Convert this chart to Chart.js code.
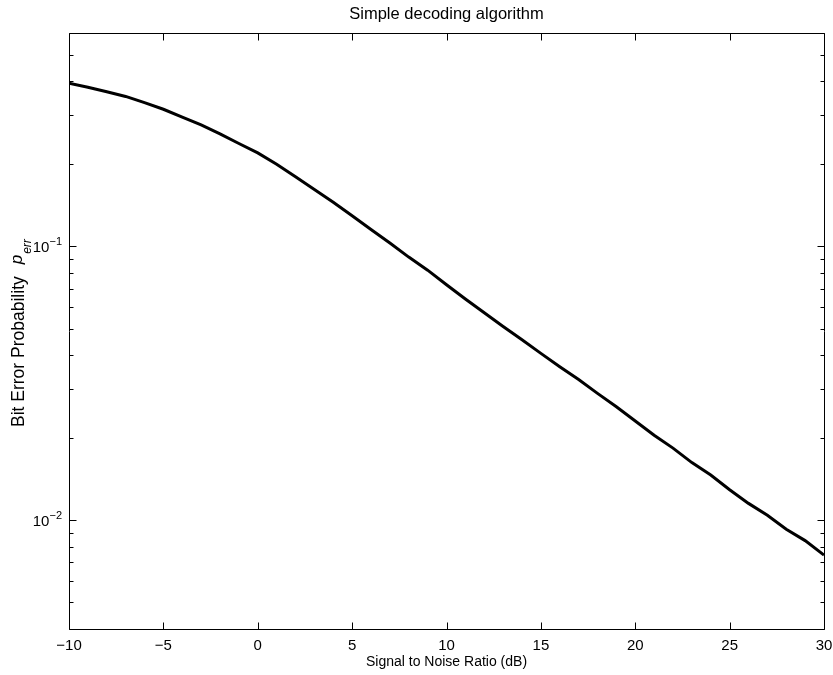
<!DOCTYPE html>
<html><head><meta charset="utf-8">
<script src="https://cdn.jsdelivr.net/npm/chart.js@4.4.1/dist/chart.umd.min.js"></script>
<style>html,body{margin:0;padding:0;background:#fff}</style>
</head><body>
<canvas id="c" width="833" height="675"></canvas>
<script>
// ---- data ----
const snr = [-10,-9,-8,-7,-6,-5,-4,-3,-2,-1,0,1,2,3,4,5,6,7,8,9,10,11,12,13,14,15,16,17,18,19,20,21,22,23,24,25,26,27,28,29,30];
const ber = [0.393,0.380,0.366,0.352,0.334,0.316,0.296,0.277,0.257,0.237,0.219,0.199,0.179,0.161,0.1445,0.129,0.115,0.1026,0.0912,0.0817,0.0723,0.0641,0.0571,0.0509,0.0455,0.0406,0.0363,0.0326,0.0290,0.0259,0.0230,0.0204,0.0183,0.0162,0.0146,0.0129,0.0115,0.0104,0.00925,0.00841,0.00745];
const xTicks = [-10,-5,0,5,10,15,20,25,30];
const yMajorTicks = [0.01,0.1];
const yMinorTicks = [0.004,0.005,0.006,0.007,0.008,0.009,0.02,0.03,0.04,0.05,0.06,0.07,0.08,0.09,0.2,0.3,0.4,0.5,0.6];
const yTickLabels = [{value:0.1, base:'10', exp:'\u22121'},{value:0.01, base:'10', exp:'\u22122'}];
const titleText = 'Simple decoding algorithm';
const xTitle = 'Signal to Noise Ratio (dB)';
const yTitle = 'Bit Error Probability';
const yTitleSym = 'p';
const yTitleSub = 'err';

const FONT = 'Arial, "Liberation Sans", Helvetica, sans-serif';

const framePlugin = {
  id: 'frame',
  afterDraw(chart) {
    const ctx = chart.ctx, a = chart.chartArea;
    const xs = chart.scales.x, ys = chart.scales.y;
    const L = Math.round(a.left)+0.5, R = Math.round(a.right)+0.5, T = Math.round(a.top)+0.5, B = Math.round(a.bottom)+0.5;
    ctx.save();
    ctx.strokeStyle = '#000'; ctx.lineWidth = 1;
    ctx.beginPath();
    ctx.rect(L, T, R-L, B-T);
    xTicks.forEach(v => {
      const px = Math.round(xs.getPixelForValue(v))+0.5;
      ctx.moveTo(px, B); ctx.lineTo(px, B-7);
      ctx.moveTo(px, T); ctx.lineTo(px, T+7);
    });
    yMajorTicks.forEach(v => {
      const py = Math.round(ys.getPixelForValue(v))+0.5;
      ctx.moveTo(L, py); ctx.lineTo(L+7, py);
      ctx.moveTo(R, py); ctx.lineTo(R-7, py);
    });
    yMinorTicks.forEach(v => {
      const py = Math.round(ys.getPixelForValue(v))+0.5;
      ctx.moveTo(L, py); ctx.lineTo(L+4, py);
      ctx.moveTo(R, py); ctx.lineTo(R-4, py);
    });
    ctx.stroke();

    ctx.fillStyle = '#000';
    yTickLabels.forEach(t => {
      const py = ys.getPixelForValue(t.value);
      ctx.font = '15px ' + FONT;
      ctx.textBaseline = 'alphabetic';
      ctx.textAlign = 'left';
      const wb = ctx.measureText(t.base).width;
      ctx.font = '11px ' + FONT;
      const we = ctx.measureText(t.exp).width;
      const x0 = a.left - 7 - wb - we;
      ctx.font = '15px ' + FONT;
      ctx.fillText(t.base, x0, py + 6);
      ctx.font = '11px ' + FONT;
      ctx.fillText(t.exp, x0 + wb, py - 1);
    });

    ctx.font = '16.5px ' + FONT;
    ctx.textAlign = 'center';
    ctx.textBaseline = 'alphabetic';
    ctx.fillText(titleText, (a.left + a.right)/2, 19);

    ctx.translate(23.5, 427);
    ctx.rotate(-Math.PI/2);
    ctx.textAlign = 'left';
    ctx.font = '17.5px ' + FONT;
    ctx.fillText(yTitle, 0, 0);
    let off = ctx.measureText(yTitle).width + 12;
    ctx.font = 'italic 17px ' + FONT;
    ctx.fillText(yTitleSym, off, -1.5);
    off += ctx.measureText(yTitleSym).width + 1;
    ctx.font = 'italic 12px ' + FONT;
    ctx.fillText(yTitleSub, off, 7.5);
    ctx.restore();
  }
};

new Chart(document.getElementById('c'), {
  type: 'line',
  data: {
    datasets: [{
      data: snr.map((x,i) => ({x: x, y: ber[i]})),
      borderColor: '#000',
      borderWidth: 3,
      pointRadius: 0,
      tension: 0,
      fill: false
    }]
  },
  options: {
    responsive: false,
    devicePixelRatio: 1,
    animation: false,
    layout: { padding: { top: 33, right: 9, left: 0, bottom: 0 } },
    plugins: { legend: { display: false }, tooltip: { enabled: false }, title: { display: false } },
    scales: {
      x: {
        type: 'linear', min: -10, max: 30,
        afterBuildTicks: s => { s.ticks = xTicks.map(v => ({value: v})); },
        afterFit: s => { s.height = 46; s.paddingRight = 0; s.paddingLeft = 0; },
        grid: { display: false, drawTicks: false },
        border: { display: false },
        ticks: {
          color: '#000', padding: 8, maxRotation: 0, autoSkip: false,
          font: { family: FONT, size: 15 },
          callback: v => String(v).replace('-', '\u2212')
        },
        title: { display: true, text: xTitle, color: '#000', font: { family: FONT, size: 14 }, padding: { top: 2, bottom: 4 } }
      },
      y: {
        type: 'logarithmic', min: 0.004, max: 0.6,
        afterFit: s => { s.width = 69; s.paddingTop = 0; s.paddingBottom = 0; },
        grid: { display: false, drawTicks: false },
        border: { display: false },
        ticks: { display: false }
      }
    }
  },
  plugins: [framePlugin]
});
</script>
</body></html>
